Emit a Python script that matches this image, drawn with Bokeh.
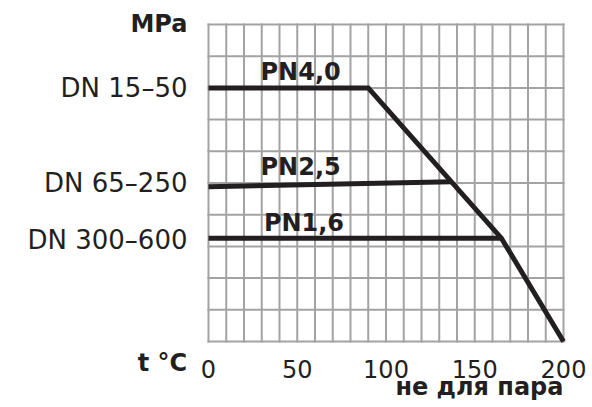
from bokeh.plotting import figure
from bokeh.models import Range1d, Label
from bokeh.embed import file_html
from bokeh.resources import INLINE

# data
main_t = [0, 90, 165, 200]          # PN4,0 limit curve, temperature (°C)
main_p = [4.0, 4.0, 1.63, 0.0]      # MPa
pn25_t = [0, 137]
pn25_p = [2.44, 2.52]
pn16_t = [0, 165]
pn16_p = [1.63, 1.63]

x_ticks = [0, 50, 100, 150, 200]
x_tick_labels = ["0", "50", "100", "150", "200"]
y_ticks = [4.0, 2.5, 1.6]
y_tick_labels = ["DN 15–50", "DN 65–250", "DN 300–600"]
grid_x = [0, 10, 20, 30, 40, 50, 60, 70, 80, 90, 100, 110, 120, 130, 140, 150, 160, 170, 180, 190, 200]
grid_y = [0, 0.5, 1.0, 1.5, 2.0, 2.5, 3.0, 3.5, 4.0, 4.5, 5.0]
t_min, t_max = 0, 200
p_min, p_max = 0, 5.0

pn_names = ["PN4,0", "PN2,5", "PN1,6"]
pn_label_t = [29.3, 29.3, 31.2]
pn_label_p = [4.027, 2.528, 1.650]

INK = "#231f20"
GRID = "#a3a3a3"
FONT = "DejaVu Sans"

# plot area spans px 208..563 horizontally and 24..341 vertically inside a 592x407 canvas
p = figure(width=592, height=407, output_backend="svg", toolbar_location=None,
           x_range=Range1d(-117.18, 216.34), y_range=Range1d(-1.041, 5.379),
           x_axis_location=None, y_axis_location=None,
           min_border=0)
p.grid.visible = False
p.outline_line_color = None
p.background_fill_color = "white"
p.border_fill_color = "white"

# grid
p.segment(x0=grid_x, y0=[p_min] * len(grid_x), x1=grid_x, y1=[p_max] * len(grid_x),
          line_color=GRID, line_width=2, line_cap="square")
p.segment(x0=[t_min] * len(grid_y), y0=grid_y, x1=[t_max] * len(grid_y), y1=grid_y,
          line_color=GRID, line_width=2, line_cap="square")

# curves
p.line(main_t, main_p, line_color=INK, line_width=5, line_join="miter")
p.line(pn25_t, pn25_p, line_color=INK, line_width=5)
p.line(pn16_t, pn16_p, line_color=INK, line_width=5)

# tick labels
p.text(x=x_ticks, y=[p_min] * len(x_ticks), text=x_tick_labels, y_offset=36,
       text_font={"value": FONT}, text_font_size="24px", text_color=INK,
       text_align="center", text_baseline="bottom")
p.text(x=[t_min] * len(y_ticks), y=y_ticks, text=y_tick_labels, x_offset=-21,
       text_font={"value": FONT}, text_font_size="26px", text_color=INK,
       text_align="right", text_baseline="middle")

def bold_label(x, y, s, align="left"):
    p.add_layout(Label(x=x, y=y, text=s, text_font=FONT, text_font_style="bold",
                       text_font_size="24px", text_color=INK, text_align=align,
                       text_baseline="bottom"))

for name, t, pr in zip(pn_names, pn_label_t, pn_label_p):
    bold_label(t, pr, name)

bold_label(-11.83, 4.784, "MPa", "right")
bold_label(-12.0, -0.563, "t °C", "right")
bold_label(t_max, -0.942, "не для пара", "right")

open("out.html", "w").write(file_html(p, INLINE))
